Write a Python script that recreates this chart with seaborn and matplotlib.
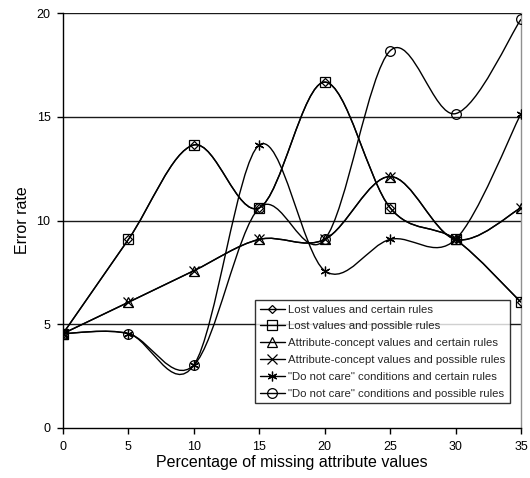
import matplotlib
matplotlib.use("Agg")
import matplotlib.pyplot as plt
from matplotlib.path import Path
from matplotlib.patches import PathPatch
from matplotlib.lines import Line2D
import numpy as np
import pandas as pd
import seaborn as sns

x_vals = [0, 5, 10, 15, 20, 25, 30, 35]
lost_certain = [4.55, 9.09, 13.64, 10.61, 16.67, 10.61, 9.09, 6.06]
lost_possible = [4.55, 9.09, 13.64, 10.61, 16.67, 10.61, 9.09, 6.06]
ac_certain = [4.55, 6.06, 7.58, 9.09, 9.09, 12.12, 9.09, 10.61]
ac_possible = [4.55, 6.06, 7.58, 9.09, 9.09, 12.12, 9.09, 10.61]
dnc_certain = [4.55, 4.55, 3.03, 13.64, 7.58, 9.09, 9.09, 15.15]
dnc_possible = [4.55, 4.55, 3.03, 10.61, 9.09, 18.18, 15.15, 19.70]

series_names = [
    "Lost values and certain rules",
    "Lost values and possible rules",
    "Attribute-concept values and certain rules",
    "Attribute-concept values and possible rules",
    "\"Do not care\" conditions and certain rules",
    "\"Do not care\" conditions and possible rules",
]
series_vals = [lost_certain, lost_possible, ac_certain, ac_possible, dnc_certain, dnc_possible]
markers = ["D", "s", "^", "x", (6, 2, 0), "o"]
msizes = [4.5, 6.5, 6.5, 6.5, 7, 7]

sns.set_theme(style="white")
plt.rcParams['font.family'] = ['Liberation Sans', 'DejaVu Sans']

fig = plt.figure(figsize=(5.30, 4.78), dpi=100)
ax = fig.add_axes([63/530, 1-428/478, (521-63)/530, (428-13)/478])


def smooth_path(xs, ys):
    pts = np.column_stack([xs, ys]).astype(float)
    n = len(pts)
    verts = [pts[0]]
    codes = [Path.MOVETO]
    for i in range(n - 1):
        p0 = pts[i - 1] if i > 0 else pts[i]
        p1 = pts[i]
        p2 = pts[i + 1]
        p3 = pts[i + 2] if i + 2 < n else pts[i + 1]
        c1 = p1 + (p2 - p0) / 6.0
        c2 = p2 - (p3 - p1) / 6.0
        verts += [c1, c2, p2]
        codes += [Path.CURVE4] * 3
    return Path(verts, codes)


rows = []
for name, vals in zip(series_names, series_vals):
    for xv, yv in zip(x_vals, vals):
        rows.append({"pct": xv, "err": yv, "series": name})
df = pd.DataFrame(rows)

for name, vals in zip(series_names, series_vals):
    ax.add_patch(PathPatch(smooth_path(x_vals, vals), facecolor="none",
                           edgecolor="black", lw=1.0, zorder=3))

for name, m, ms in zip(series_names, markers, msizes):
    sub = df[df["series"] == name]
    sns.lineplot(data=sub, x="pct", y="err", ax=ax, linestyle="none",
                 marker=m, markersize=ms, markerfacecolor="none",
                 markeredgecolor="black", markeredgewidth=0.9,
                 color="black", legend=False, zorder=4)

ax.set_xlim(0, 35)
ax.set_ylim(0, 20)
ax.set_xticks([0, 5, 10, 15, 20, 25, 30, 35])
ax.set_yticks([0, 5, 10, 15, 20])
for yv in [5, 10, 15, 20]:
    ax.axhline(yv, color="#1a1a1a", lw=1.0, zorder=1)

for side in ["left", "bottom"]:
    ax.spines[side].set_color("black")
    ax.spines[side].set_linewidth(1.0)
ax.spines["right"].set_color("#909090")
ax.spines["right"].set_linewidth(1.0)
ax.spines["top"].set_visible(False)
ax.tick_params(axis="both", direction="out", length=4, width=1, color="black",
               labelsize=9, labelcolor="black", pad=5, left=True, bottom=True)
ax.set_xlabel("Percentage of missing attribute values", fontsize=11.5, labelpad=2, color="black")
ax.set_ylabel("Error rate", fontsize=11.5, labelpad=5, color="black")

handles = [Line2D([0], [0], color="black", lw=1.0, marker=m, markersize=ms,
                  markerfacecolor="none", markeredgecolor="black", markeredgewidth=0.9)
           for m, ms in zip(markers, msizes)]
leg = ax.legend(handles, series_names, loc="upper left",
                bbox_to_anchor=((255-63)/458, (428-300)/415), borderaxespad=0,
                fontsize=8.2, frameon=True, fancybox=False, handlelength=2.2,
                handletextpad=0.3, labelspacing=0.6, borderpad=0.4)
leg.get_frame().set_edgecolor("black")
leg.get_frame().set_linewidth(1.0)
leg.set_zorder(5)

fig.savefig("out.png", dpi=100, facecolor="white")
